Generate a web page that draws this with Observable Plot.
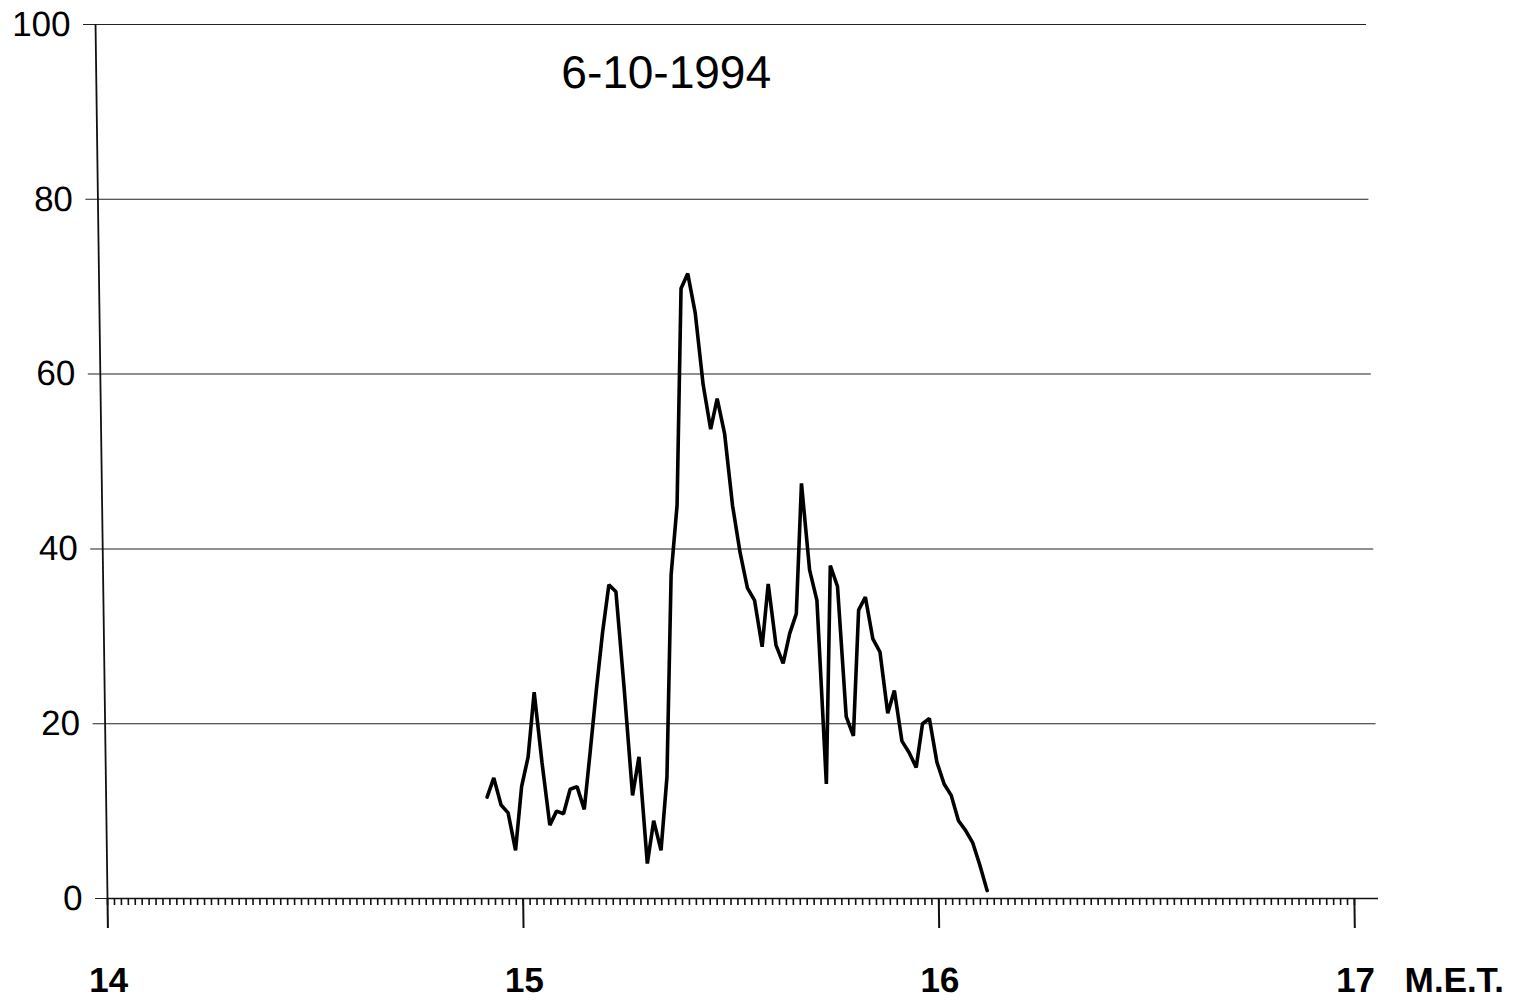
<!DOCTYPE html>
<html>
<head>
<meta charset="utf-8">
<script src="https://cdn.jsdelivr.net/npm/d3@7"></script>
<script src="https://cdn.jsdelivr.net/npm/@observablehq/plot@0.6"></script>
<style>
  html, body { margin: 0; padding: 0; background: #fff; }
  #chart svg { display: block; transform: skewX(0.785deg); transform-origin: 0 898px; }
</style>
</head>
<body>
<div id="chart"></div>
<script>
// ---- data ----
const title = "6-10-1994";
const xUnit = "M.E.T.";
const times = [
  "14:55","14:56","14:57","14:58","14:59",
  "15:00","15:01","15:02","15:03","15:04","15:05","15:06","15:07","15:08","15:09",
  "15:10","15:11","15:12","15:13","15:14","15:15","15:16","15:17","15:18","15:19",
  "15:20","15:21","15:22","15:23","15:24","15:25","15:26","15:27","15:28","15:29",
  "15:30","15:31","15:32","15:33","15:34","15:35","15:36","15:37","15:38","15:39",
  "15:40","15:41","15:42","15:43","15:44","15:45","15:46","15:47","15:48","15:49",
  "15:50","15:51","15:52","15:53","15:54","15:55","15:56","15:57","15:58","15:59",
  "16:00","16:01","16:02","16:03","16:04","16:05","16:06","16:07"
];
const values = [
  11.6, 13.8, 10.7, 9.8, 5.5,
  12.8, 16.2, 23.6, 15.5, 8.4, 10.0, 9.7, 12.5, 12.8, 10.2,
  17.0, 24.0, 30.5, 35.9, 35.1, 24.0, 11.8, 16.2, 4.0, 8.9,
  5.5, 13.9, 37.0, 45.0, 69.8, 71.5, 67.0, 58.8, 53.7, 57.2,
  53.2, 45.0, 39.6, 35.5, 34.1, 28.8, 36.0, 29.0, 26.9, 30.3,
  32.6, 47.5, 37.6, 34.1, 13.1, 38.1, 35.7, 20.8, 18.6, 33.0,
  34.5, 29.7, 28.2, 21.2, 23.8, 18.0, 16.7, 15.0, 20.0, 20.6,
  15.6, 13.1, 11.8, 8.9, 7.8, 6.4, 3.8, 0.9
];
const hourTicks = [14, 15, 16, 17];
const yTicks = [0, 20, 40, 60, 80, 100];

// ---- build table ----
const toHours = s => { const [h, m] = s.split(":").map(Number); return h + m / 60; };
const data = times.map((t, i) => ({hour: toHours(t), value: values[i]}));
const minuteTicks = d3.range(0, 181).map(m => 14 + m / 60);

const font = "'Liberation Sans', Arial, Helvetica, sans-serif";

const chart = Plot.plot({
  width: 1525,
  height: 1003,
  marginLeft: 107,
  marginRight: 147,
  marginTop: 24,
  marginBottom: 105,
  style: {fontFamily: font, color: "#000", background: "#fff", overflow: "visible"},
  x: {domain: [14, 17.058], label: null},
  y: {domain: [0, 100], label: null},
  marks: [
    Plot.gridY(yTicks.filter(d => d > 0), {stroke: "#222", strokeOpacity: 1, strokeWidth: 1}),
    Plot.axisY(yTicks, {tickSize: 12, tickPadding: 13, fontSize: 35, tickFormat: d => String(d), stroke: "#222", strokeWidth: 1, label: null}),
    Plot.ruleY([0], {stroke: "#111", strokeWidth: 1.6}),
    Plot.ruleX([14], {stroke: "#111", strokeWidth: 1.8}),
    Plot.axisX(minuteTicks, {tickSize: 7, tickFormat: () => "", stroke: "#111", strokeWidth: 1.6, label: null}),
    Plot.axisX(hourTicks, {tickSize: 30, tickPadding: 39, fontSize: 35, fontWeight: "bold", tickFormat: d => String(d), stroke: "#111", strokeWidth: 2, label: null}),
    Plot.line(data, {x: "hour", y: "value", stroke: "#000", strokeWidth: 3.6, strokeLinejoin: "miter"}),
    Plot.text([title], {frameAnchor: "top-left", dx: 570, dy: 31, lineAnchor: "top", textAnchor: "middle", fontSize: 46, fill: "#000"}),
    Plot.text([xUnit], {frameAnchor: "bottom-right", dx: 25, dy: 69, lineAnchor: "top", textAnchor: "start", fontSize: 35, fontWeight: "bold", fill: "#000"})
  ]
});
document.getElementById("chart").appendChild(chart);
</script>
</body>
</html>
